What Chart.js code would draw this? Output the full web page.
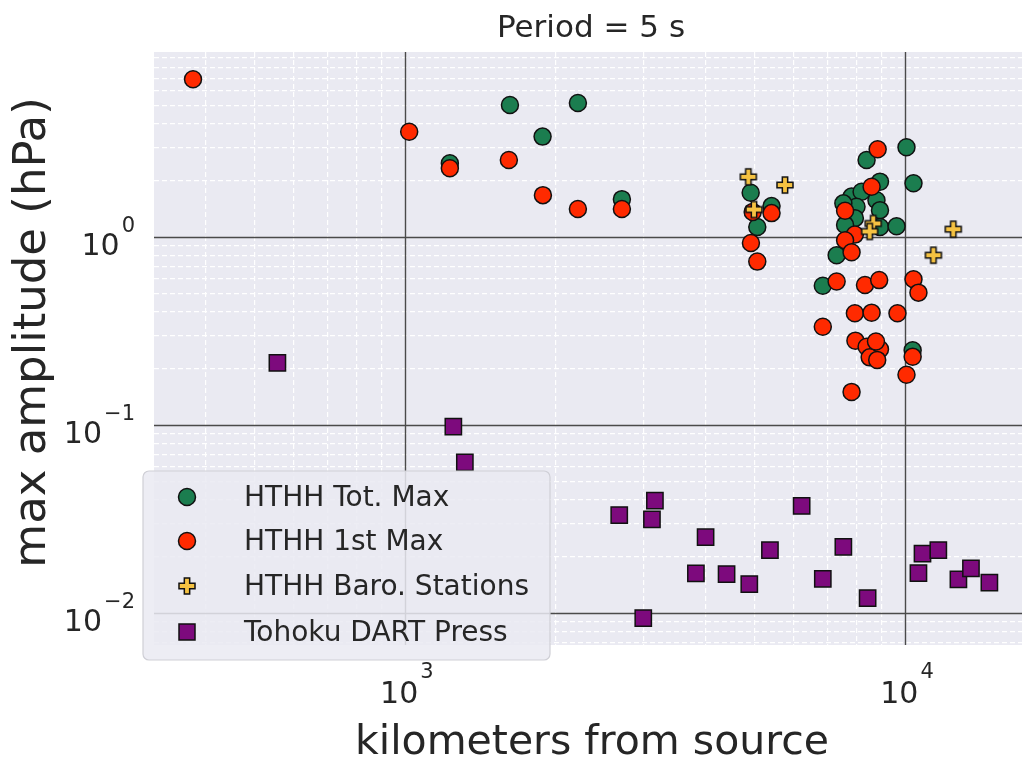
<!DOCTYPE html>
<html>
<head>
<meta charset="utf-8">
<script src="https://cdn.jsdelivr.net/npm/chart.js@4.4.0/dist/chart.umd.min.js"></script>
<style>
  html, body { margin: 0; padding: 0; background: #fff; }
  canvas { display: block; }
</style>
</head>
<body>
<canvas id="chart" width="1022" height="761" style="width:1022px;height:761px"></canvas>
<script>
// series values (distance in km, amplitude in hPa)
const totMaxDist = [1230, 1885, 1622, 2218, 2716, 4914, 5410, 5066, 10070, 8380, 8913, 10400, 7820, 8190, 8770, 8913, 8000, 7530, 7940, 7590, 8913, 9620, 7300, 6850, 10360];
const totMaxAmp  = [2.47, 3.42, 5.04, 5.16, 1.59, 1.72, 1.46, 1.13, 3.0, 2.57, 1.97, 1.93, 1.64, 1.74, 1.57, 1.39, 1.45, 1.51, 1.26, 1.16, 1.13, 1.14, 0.80, 0.55, 0.25];

const firstMaxDist = [377, 1020, 1230, 1614, 1888, 2218, 2716, 4960, 5410, 4920, 5066, 8818, 8576, 7590, 7940, 7590, 7820, 7300, 8318, 8880, 10400, 10640, 7940, 8576, 9660, 6850, 7960, 8380, 8913, 8500, 8800, 8750, 10360, 10070, 7820];
const firstMaxAmp  = [6.90, 3.63, 2.32, 2.57, 1.67, 1.41, 1.41, 1.36, 1.34, 0.93, 0.74, 2.93, 1.85, 1.38, 1.03, 0.96, 0.83, 0.58, 0.556, 0.59, 0.596, 0.506, 0.393, 0.396, 0.393, 0.333, 0.281, 0.261, 0.253, 0.229, 0.222, 0.278, 0.231, 0.185, 0.150];

const baroDist = [4862, 4989, 5754, 8640, 8500, 12490, 11400];
const baroAmp  = [2.09, 1.40, 1.89, 1.18, 1.07, 1.10, 0.80];

const dartDist = [556, 1250, 1318, 2683, 3162, 3119, 2997, 3993, 3819, 4398, 4883, 5370, 6214, 6850, 7530, 8420, 10640, 10840, 11660, 12790, 13550, 14750];
const dartAmp  = [0.214, 0.098, 0.0633, 0.0332, 0.0396, 0.0315, 0.0094, 0.0253, 0.01626, 0.0161, 0.01426, 0.0216, 0.0371, 0.0152, 0.0225, 0.0120, 0.0163, 0.0207, 0.0216, 0.0151, 0.0173, 0.0145];

const seriesNames = ['HTHH Tot. Max', 'HTHH 1st Max', 'HTHH Baro. Stations', 'Tohoku DART Press'];
const seriesColors = ['#1b7d4f', '#ff2a00', '#f5c242', '#7d0a7d'];

// axis ranges and labelled ticks (powers of ten)
const xRange = [315, 17140];
const yRange = [0.00676, 9.64];
const xTickValues = [1e3, 1e4];
const yTickValues = [1e-2, 1e-1, 1e0];

const FONT = "'DejaVu Sans', sans-serif";

function toPoints(xs, ys) {
  return xs.map((x, i) => ({ x: x, y: ys[i] }));
}

// filled plus marker, like matplotlib's "P"
function plusMarker(size, color) {
  const c = document.createElement('canvas');
  c.width = c.height = size + 4;
  const g = c.getContext('2d');
  const m = (size + 4) / 2, a = size / 2, t = size / 6;
  g.beginPath();
  g.moveTo(m - t, m - a); g.lineTo(m + t, m - a); g.lineTo(m + t, m - t);
  g.lineTo(m + a, m - t); g.lineTo(m + a, m + t); g.lineTo(m + t, m + t);
  g.lineTo(m + t, m + a); g.lineTo(m - t, m + a); g.lineTo(m - t, m + t);
  g.lineTo(m - a, m + t); g.lineTo(m - a, m - t); g.lineTo(m - t, m - t);
  g.closePath();
  g.fillStyle = color;
  g.fill();
  g.lineWidth = 1.5;
  g.strokeStyle = '#111';
  g.stroke();
  return c;
}
const plusImg = plusMarker(16, seriesColors[2]);

// minor ticks 2..9 x 10^n; the decades themselves are drawn as major lines below
function minorTicks(min, max) {
  const ticks = [];
  for (let e = Math.floor(Math.log10(min)); e <= Math.ceil(Math.log10(max)); e++) {
    for (let k = 2; k < 10; k++) {
      const v = k * Math.pow(10, e);
      if (v >= min && v <= max) ticks.push({ value: v });
    }
  }
  return ticks;
}
function expText(v) {
  const e = Math.round(Math.log10(v));
  return e < 0 ? '\u2212' + (-e) : String(e);
}

const gridOpts = { drawTicks: false, color: '#ffffff', lineWidth: 1.2 };
const borderOpts = { display: false, dash: [5, 3] };

const decorations = {
  id: 'decorations',
  beforeDraw(chart) {
    const a = chart.chartArea, ctx = chart.ctx;
    ctx.save();
    ctx.fillStyle = '#eaeaf2';
    ctx.fillRect(a.left, a.top, a.right - a.left, a.bottom - a.top);
    ctx.restore();
  },
  beforeDatasetsDraw(chart) {
    const a = chart.chartArea, ctx = chart.ctx;
    ctx.save();
    ctx.strokeStyle = '#4a4a4a';
    ctx.lineWidth = 1.4;
    ctx.beginPath();
    xTickValues.forEach(v => {
      const px = Math.round(chart.scales.x.getPixelForValue(v)) + 0.5;
      ctx.moveTo(px, a.top); ctx.lineTo(px, a.bottom);
    });
    yTickValues.forEach(v => {
      const py = Math.round(chart.scales.y.getPixelForValue(v)) + 0.5;
      ctx.moveTo(a.left, py); ctx.lineTo(a.right, py);
    });
    ctx.stroke();
    ctx.restore();
  },
  afterDraw(chart) {
    const ctx = chart.ctx, a = chart.chartArea;
    const xs = chart.scales.x, ys = chart.scales.y;
    ctx.save();
    ctx.fillStyle = '#262626';
    ctx.textBaseline = 'alphabetic';

    // title
    ctx.font = '31px ' + FONT;
    ctx.textAlign = 'center';
    ctx.fillText('Period = 5 s', (a.left + a.right) / 2 + 3, 37);

    // x axis title
    ctx.font = '41px ' + FONT;
    ctx.fillText('kilometers from source', (a.left + a.right) / 2 + 4, 754);

    // y axis title
    ctx.save();
    ctx.translate(45, (a.top + a.bottom) / 2 - 16);
    ctx.rotate(-Math.PI / 2);
    ctx.font = '45px ' + FONT;
    ctx.fillText('max amplitude (hPa)', 0, 0);
    ctx.restore();

    // tick labels 10^n
    ctx.textAlign = 'left';
    yTickValues.forEach(v => {
      const py = ys.getPixelForValue(v);
      ctx.font = '30px ' + FONT;
      const w10 = ctx.measureText('10').width;
      ctx.font = '21px ' + FONT;
      const we = ctx.measureText(expText(v)).width;
      const x0 = 135 - we - 2 - w10;
      ctx.font = '30px ' + FONT;
      ctx.fillText('10', x0, py + 18);
      ctx.font = '21px ' + FONT;
      ctx.fillText(expText(v), x0 + w10 + 2, py - 5);
    });
    xTickValues.forEach(v => {
      const px = xs.getPixelForValue(v);
      ctx.font = '30px ' + FONT;
      const w10 = ctx.measureText('10').width;
      ctx.font = '21px ' + FONT;
      const we = ctx.measureText(expText(v)).width;
      const x0 = px + 2 - (w10 + 2 + we) / 2;
      ctx.font = '30px ' + FONT;
      ctx.fillText('10', x0, 703);
      ctx.font = '21px ' + FONT;
      ctx.fillText(expText(v), x0 + w10 + 2, 678);
    });

    // legend box
    const L = 143, T = 471, R = 550, B = 660, r = 6;
    ctx.beginPath();
    ctx.moveTo(L + r, T);
    ctx.arcTo(R, T, R, B, r);
    ctx.arcTo(R, B, L, B, r);
    ctx.arcTo(L, B, L, T, r);
    ctx.arcTo(L, T, R, T, r);
    ctx.closePath();
    ctx.fillStyle = 'rgba(234,234,242,0.85)';
    ctx.fill();
    ctx.lineWidth = 1.2;
    ctx.strokeStyle = '#cfcfd6';
    ctx.stroke();

    const rowY = [497, 541, 586, 632];
    chart.data.datasets.forEach((ds, i) => {
      const my = rowY[i];
      const style = ds.pointStyle;
      ctx.fillStyle = ds.backgroundColor;
      ctx.strokeStyle = '#111';
      ctx.lineWidth = 1.5;
      if (style === 'circle') {
        ctx.beginPath();
        ctx.arc(187, my, 8.5, 0, Math.PI * 2);
        ctx.fill(); ctx.stroke();
      } else if (style === 'rect') {
        ctx.beginPath();
        ctx.rect(187 - 8, my - 8, 16, 16);
        ctx.fill(); ctx.stroke();
      } else {
        ctx.drawImage(style, 187 - style.width / 2, my - style.height / 2);
      }
      ctx.fillStyle = '#262626';
      ctx.font = '28px ' + FONT;
      ctx.textAlign = 'left';
      ctx.fillText(ds.label, 244, my + 9);
    });
    ctx.restore();
  }
};

const ctx = document.getElementById('chart').getContext('2d');

new Chart(ctx, {
  type: 'scatter',
  data: {
    datasets: [
      {
        label: seriesNames[0],
        data: toPoints(totMaxDist, totMaxAmp),
        backgroundColor: seriesColors[0],
        borderColor: '#111',
        borderWidth: 1.5,
        pointStyle: 'circle',
        pointRadius: 8.5,
        order: 4
      },
      {
        label: seriesNames[1],
        data: toPoints(firstMaxDist, firstMaxAmp),
        backgroundColor: seriesColors[1],
        borderColor: '#111',
        borderWidth: 1.5,
        pointStyle: 'circle',
        pointRadius: 8.5,
        order: 3
      },
      {
        label: seriesNames[2],
        data: toPoints(baroDist, baroAmp),
        backgroundColor: seriesColors[2],
        borderColor: '#111',
        pointStyle: plusImg,
        pointRadius: 9,
        order: 2
      },
      {
        label: seriesNames[3],
        data: toPoints(dartDist, dartAmp),
        backgroundColor: seriesColors[3],
        borderColor: '#111',
        borderWidth: 1.5,
        pointStyle: 'rect',
        pointRadius: 11.5,
        order: 1
      }
    ]
  },
  options: {
    responsive: false,
    animation: false,
    devicePixelRatio: 1,
    layout: { autoPadding: false, padding: { left: 154, right: 0, top: 52, bottom: 116 } },
    plugins: {
      legend: { display: false },
      title: { display: false },
      tooltip: { enabled: false }
    },
    scales: {
      x: {
        type: 'logarithmic',
        min: xRange[0],
        max: xRange[1],
        afterBuildTicks: scale => { scale.ticks = minorTicks(scale.min, scale.max); },
        ticks: { display: false, autoSkip: false },
        grid: gridOpts,
        border: borderOpts
      },
      y: {
        type: 'logarithmic',
        min: yRange[0],
        max: yRange[1],
        afterBuildTicks: scale => { scale.ticks = minorTicks(scale.min, scale.max); },
        ticks: { display: false, autoSkip: false },
        grid: gridOpts,
        border: borderOpts
      }
    }
  },
  plugins: [decorations]
});
</script>
</body>
</html>
